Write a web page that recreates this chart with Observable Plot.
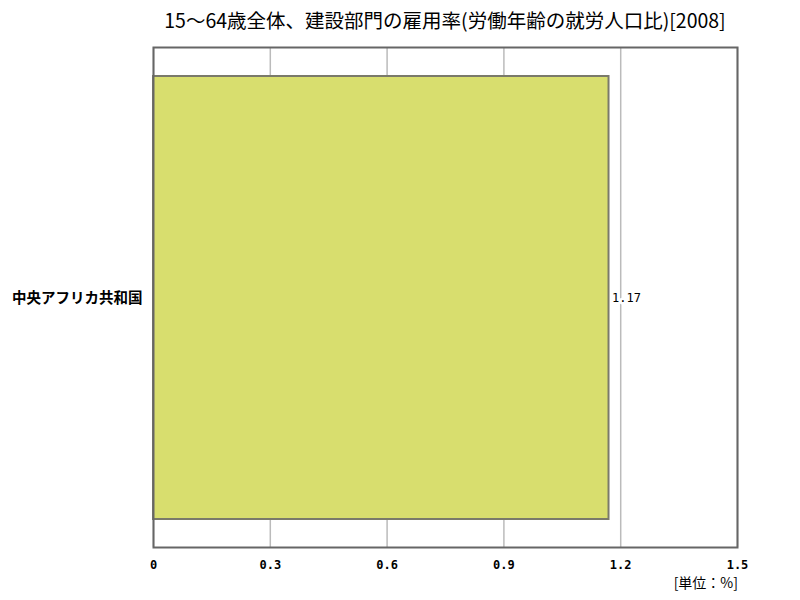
<!DOCTYPE html>
<html><head><meta charset="utf-8">
<script src="https://cdn.jsdelivr.net/npm/d3@7"></script>
<script src="https://cdn.jsdelivr.net/npm/@observablehq/plot@0.6"></script>
<style>
body{margin:0;background:#fff;font-family:"Noto Sans CJK JP",sans-serif;}
#wrap{position:relative;width:800px;height:600px;}
#title{position:absolute;left:0;width:800px;top:5px;text-align:center;padding-left:90px;box-sizing:border-box;font-size:19.5px;color:#000;letter-spacing:0px;}
#unit{position:absolute;right:62px;top:574px;font-size:14px;line-height:16px;color:#000;}
#chart{position:absolute;left:0;top:0;}
</style></head>
<body><div id="wrap"><div id="chart"></div><div id="title">15～64歳全体、建設部門の雇用率(労働年齢の就労人口比)[2008]</div><div id="unit">[単位：%]</div></div>
<script>
const countries = ["中央アフリカ共和国"];
const values = [1.17];
const xTicks = [0, 0.3, 0.6, 0.9, 1.2, 1.5];
const data = countries.map((c, i) => ({country: c, value: values[i]}));

const chart = Plot.plot({
  width: 800,
  height: 600,
  marginTop: 47,
  marginLeft: 153,
  marginRight: 63,
  marginBottom: 53,
  style: {fontFamily: "'Noto Sans CJK JP', sans-serif", background: "#fff"},
  x: {domain: [0, 1.5], ticks: xTicks, tickFormat: d => d === 0 ? "0" : d3.format(".1f")(d), label: null, tickSize: 0},
  y: {domain: countries, label: null, tickSize: 0, paddingOuter: 0.058, paddingInner: 0.1},
  marks: [
    Plot.gridX(xTicks, {stroke: "#bbb", strokeOpacity: 1, strokeWidth: 1.5}),
    Plot.barX(data, {x: "value", y: "country", fill: "#d8de6e", stroke: "#7a7a6a", strokeWidth: 2}),
    Plot.text(data, {x: "value", y: "country", text: d => d3.format(".2f")(d.value), textAnchor: "start", dx: 3, fill: "#000", stroke: "#fff", strokeWidth: 5, fontSize: 12, fontFamily: "'DejaVu Sans Mono', monospace"}),
    Plot.frame({stroke: "#666", strokeWidth: 2}),
    Plot.axisX(xTicks, {tickSize: 0, fontSize: 12, dy: 4, fontFamily: "'DejaVu Sans Mono', monospace", fontWeight: "bold", tickFormat: d => d === 0 ? "0" : d3.format(".1f")(d), label: null}),
    Plot.axisY({tickSize: 0, fontSize: 14.5, fontWeight: "bold", dx: -2, label: null})
  ]
});
document.getElementById("chart").appendChild(chart);
</script></body></html>
